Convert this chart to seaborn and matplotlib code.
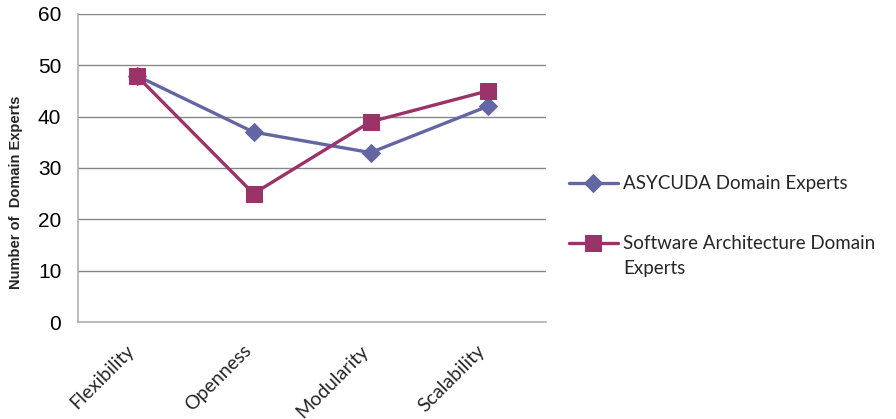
import matplotlib
matplotlib.use("Agg")
import matplotlib.pyplot as plt
import matplotlib.transforms as mtransforms
import seaborn as sns
import pandas as pd

categories = ["Flexibility", "Openness", "Modularity", "Scalability"]
asycuda = [48, 37, 33, 42]
software = [48, 25, 39, 45]
series_names = ["ASYCUDA Domain Experts", "Software Architecture Domain\nExperts"]
colors = ["#6466A3", "#9B3368"]
markers = ["D", "s"]
yticks = [0, 10, 20, 30, 40, 50, 60]

sns.set_theme(style="white")
plt.rcParams['font.family'] = ['Liberation Sans', 'DejaVu Sans']

df = pd.DataFrame({
    "category": categories * 2,
    "value": asycuda + software,
    "series": [series_names[0]] * 4 + [series_names[1]] * 4,
})

fig = plt.figure(figsize=(8.96, 4.19), dpi=100)
ax = fig.add_axes([78/896, 1-322/419, (546-78)/896, (322-14)/419])

for name, col, mk, ms in zip(series_names, colors, markers, [9, 11]):
    sub = df[df["series"] == name]
    sns.lineplot(data=sub, x="category", y="value", ax=ax, color=col, marker=mk,
                 markersize=ms, markeredgecolor=col, linewidth=2.4, label=name, sort=False)

ax.set_xlim(-0.5, 3.5)
ax.set_ylim(0, 60)
ax.set_yticks(yticks)
ax.yaxis.grid(True, color="#878787", linewidth=1)
ax.set_axisbelow(True)
for s in ["top", "right"]:
    ax.spines[s].set_visible(False)
for s in ["left", "bottom"]:
    ax.spines[s].set_color("#b0b0b0")
    ax.spines[s].set_linewidth(1.2)
ax.tick_params(axis="y", labelsize=15, pad=12, length=0, colors="black")
ax.tick_params(axis="x", length=0, pad=0)
ax.set_xlabel("")
ax.set_ylabel("Number of  Domain Experts", fontsize=10.5, fontweight="bold")
ax.yaxis.set_label_coords(-0.118, 0.42)
plt.setp(ax.get_xticklabels(), rotation=45, ha="right", va="top", rotation_mode="anchor",
         fontsize=14, family=["Lato", "DejaVu Sans"])
offset = mtransforms.ScaledTranslation(-11/100, -20/100, fig.dpi_scale_trans)
for lab in ax.get_xticklabels():
    lab.set_transform(lab.get_transform() + offset)

leg = ax.legend(loc="upper left", bbox_to_anchor=(552/896, 1-158/419),
                bbox_transform=fig.transFigure, frameon=False,
                prop={"family": ["Lato", "DejaVu Sans"], "size": 13.5},
                handlelength=2.6, handletextpad=0.28, labelspacing=2.2,
                handleheight=1.2)
for t in leg.get_texts():
    t.set_linespacing(1.55)
for col in leg._legend_handle_box.get_children():
    for item in col.get_children():
        item.align = "top"

fig.savefig("out.png", dpi=100)
